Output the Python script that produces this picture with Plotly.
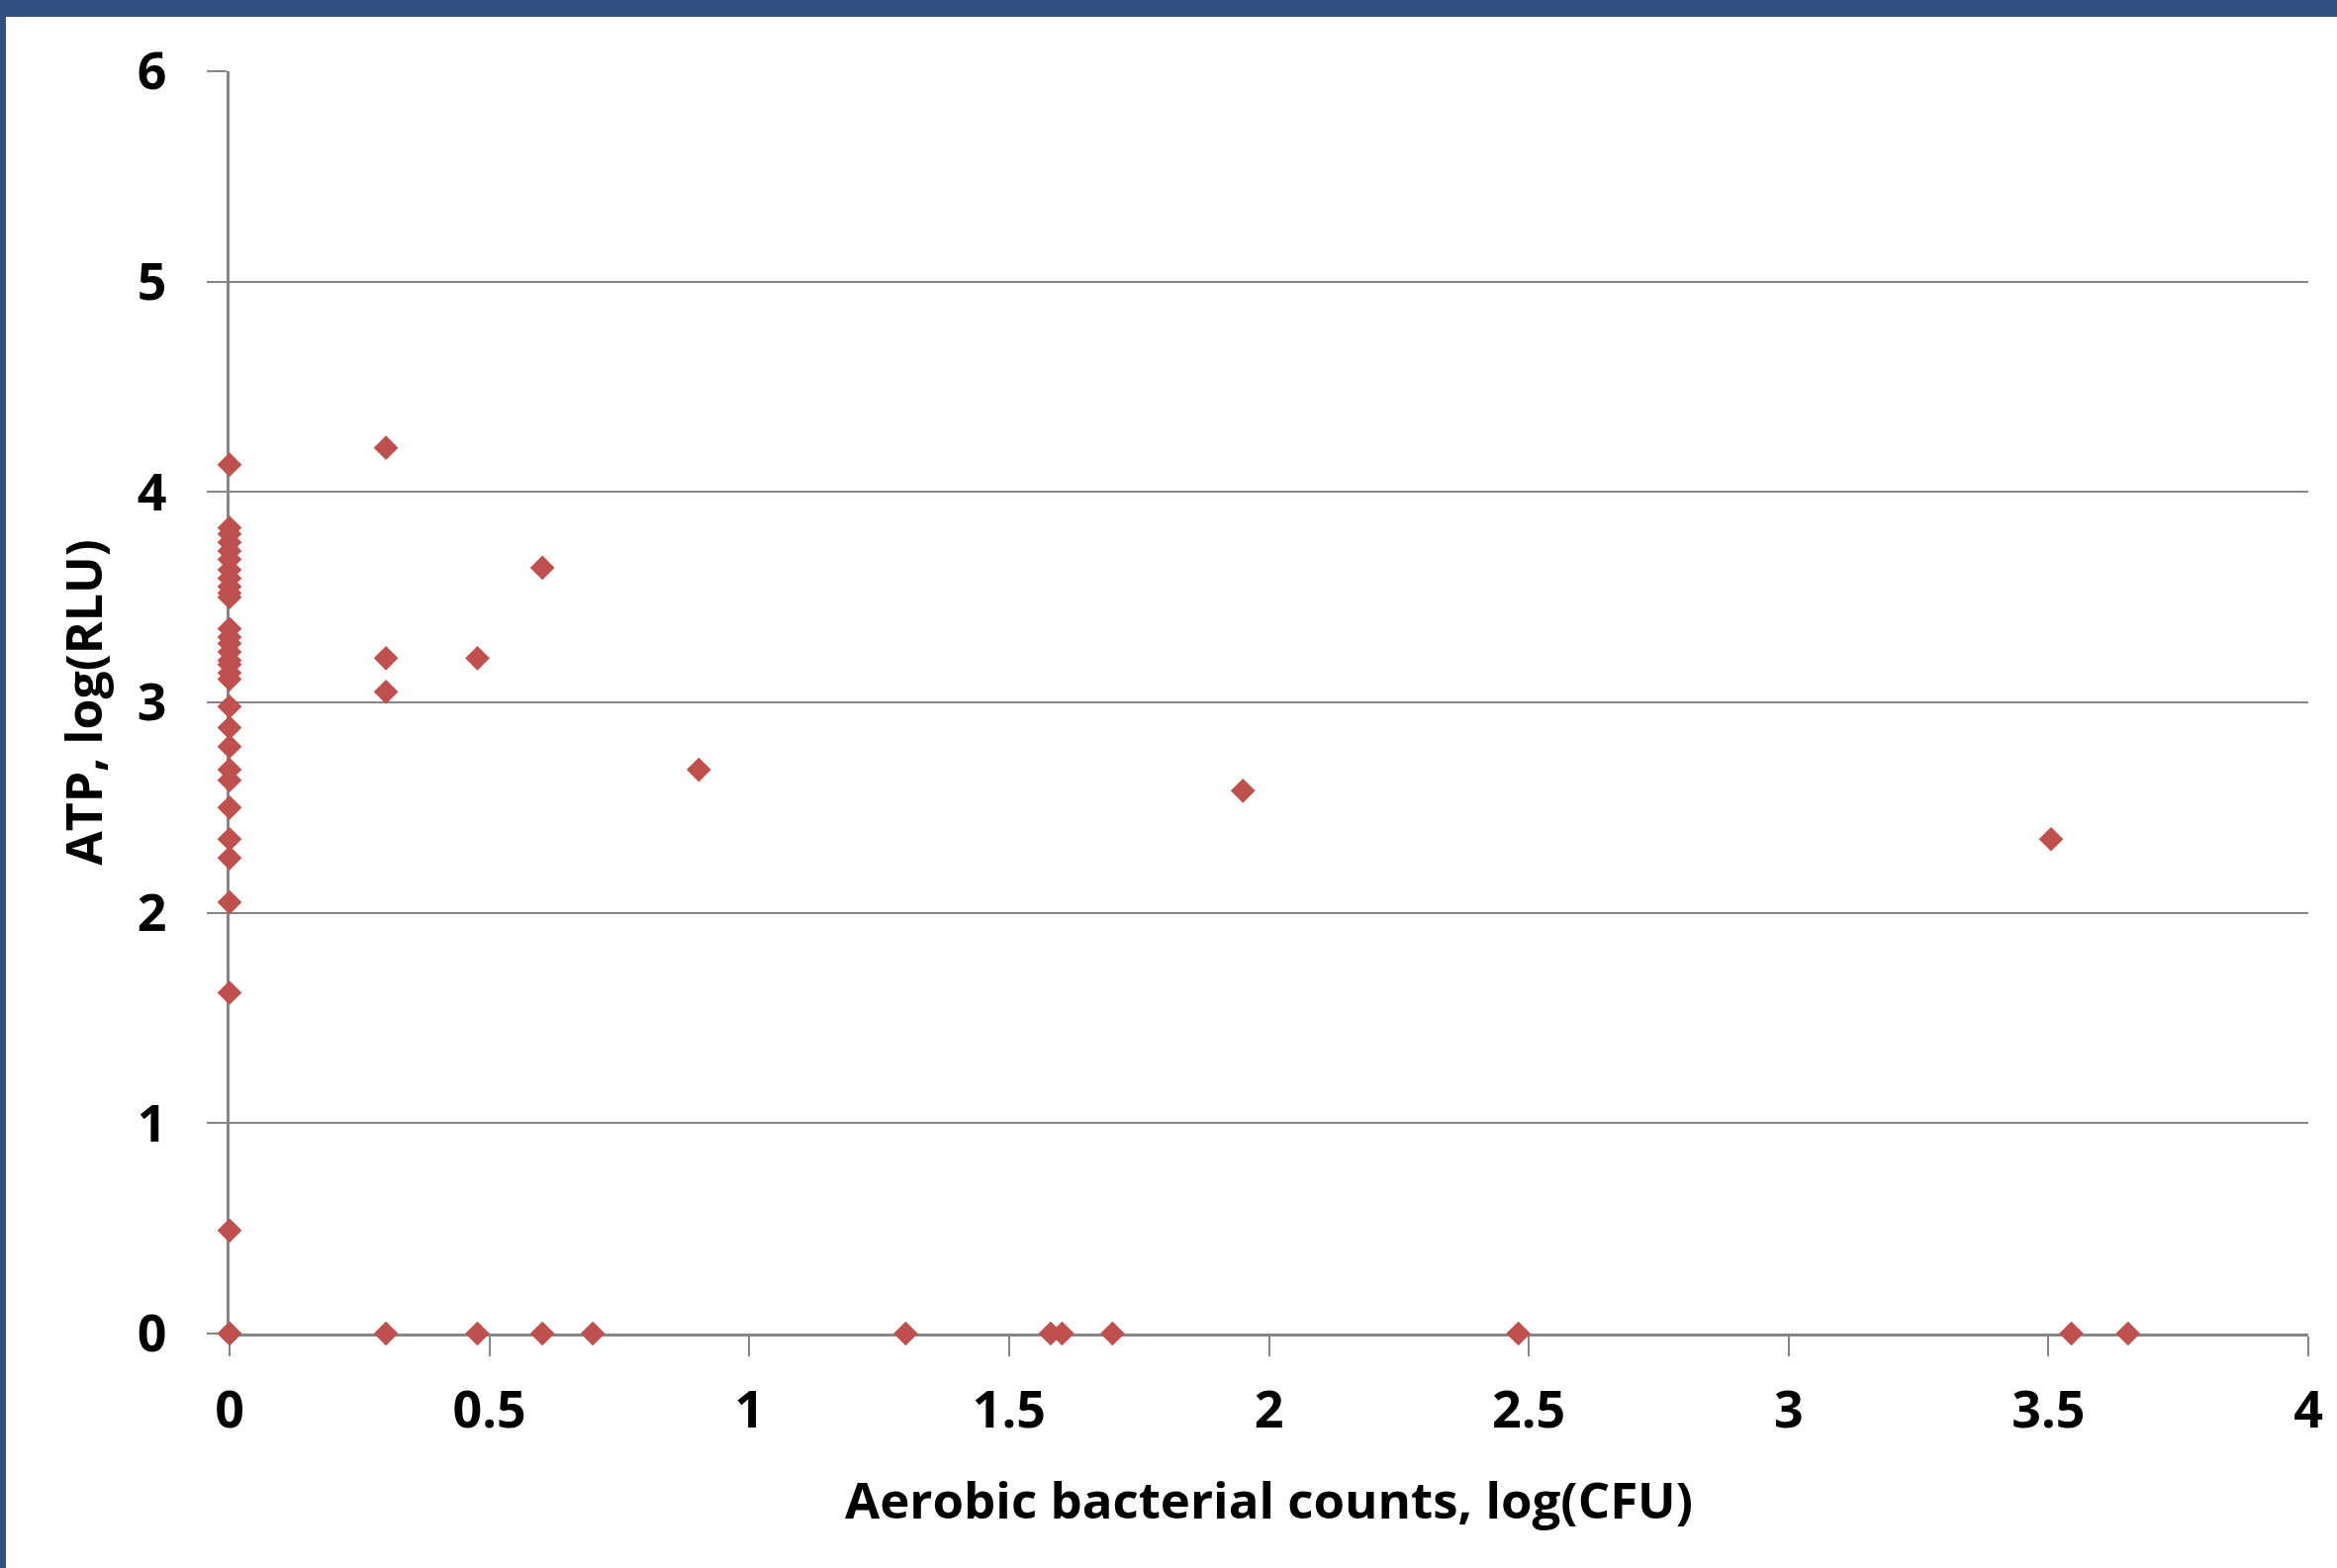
import plotly.graph_objects as go

# Data
cfu_log = [0, 0, 0, 0, 0, 0, 0, 0, 0, 0, 0, 0, 0, 0, 0, 0, 0, 0, 0, 0, 0, 0, 0, 0, 0, 0,
           0, 0, 0, 0, 0, 0,
           0.301, 0.301, 0.301, 0.301,
           0.477, 0.477,
           0.602, 0.602,
           0.699,
           0.903,
           1.301,
           1.580, 1.602,
           1.699,
           1.950,
           2.480,
           3.505, 3.544, 3.653]
atp_log = [4.13, 3.83, 3.76, 3.72, 3.68, 3.63, 3.55, 3.50, 3.35, 3.28, 3.24, 3.18, 3.11,
           2.98, 2.88, 2.79, 2.68, 2.63, 2.50, 2.35, 2.26, 2.05, 1.62, 0.49, 0, 0,
           3.80, 3.59, 3.52, 3.31, 3.20, 3.14,
           4.21, 3.21, 3.05, 0,
           3.21, 0,
           3.64, 0,
           0,
           2.68,
           0,
           0, 0,
           0,
           2.58,
           0,
           2.35, 0, 0]

x_ticks = [0, 0.5, 1, 1.5, 2, 2.5, 3, 3.5, 4]
x_tick_text = ["0", "0.5", "1", "1.5", "2", "2.5", "3", "3.5", "4"]
y_ticks = [0, 1, 2, 3, 4, 5, 6]

x_title = "Aerobic bacterial counts, log(CFU)"
y_title = "ATP, log(RLU)"

W, H = 2362, 1585
L, R, T, B = 232, 29, 72, 237
pw, ph = W - L - R, H - T - B

FONT = "Open Sans"
GRID = "#868686"
BLUE = "#32507F"

fig = go.Figure()
fig.add_trace(go.Scatter(
    x=cfu_log, y=atp_log, mode="markers",
    marker=dict(symbol="diamond", size=19, color="#C0504D", line=dict(width=0)),
    cliponaxis=False, showlegend=False,
))

def px_x(p):
    return (p - L) / pw

def px_y(p):
    return (H - B - p) / ph

fig.update_layout(
    width=W, height=H,
    margin=dict(l=L, r=R, t=T, b=B, pad=0),
    paper_bgcolor="white", plot_bgcolor="white",
    font=dict(family=FONT, color="black"),
    xaxis=dict(
        range=[0, 4], tickvals=x_ticks, ticktext=x_tick_text,
        showgrid=False, zeroline=False,
        showline=True, linecolor=GRID, linewidth=3,
        ticks="outside", ticklen=20, tickwidth=2, tickcolor=GRID,
        tickfont=dict(family=FONT, size=52, weight="bold", color="black"),
        ticklabelstandoff=10,
        title=dict(text=x_title, font=dict(family=FONT, size=51, weight="bold", color="black"), standoff=42),
        layer="below traces", fixedrange=True,
    ),
    yaxis=dict(
        range=[0, 6], tickvals=y_ticks,
        showgrid=True, gridcolor=GRID, gridwidth=2,
        zeroline=False,
        showline=True, linecolor=GRID, linewidth=3,
        ticks="outside", ticklen=20, tickwidth=2, tickcolor=GRID,
        tickfont=dict(family=FONT, size=52, weight="bold", color="black"),
        ticklabelstandoff=30,
        title=dict(text=y_title, font=dict(family=FONT, size=50, weight="bold", color="black"), standoff=20),
        layer="below traces", fixedrange=True,
    ),
    shapes=[
        dict(type="rect", xref="paper", yref="paper",
             x0=px_x(0), x1=px_x(W), y0=px_y(17), y1=px_y(0),
             fillcolor=BLUE, line=dict(width=0), layer="above"),
        dict(type="rect", xref="paper", yref="paper",
             x0=px_x(0), x1=px_x(6), y0=px_y(H), y1=px_y(0),
             fillcolor=BLUE, line=dict(width=0), layer="above"),
    ],
)

fig.write_html(
    "out.html",
    config={"displayModeBar": False, "staticPlot": True},
    post_script="document.body.style.margin='0';document.body.style.overflow='hidden';",
)
